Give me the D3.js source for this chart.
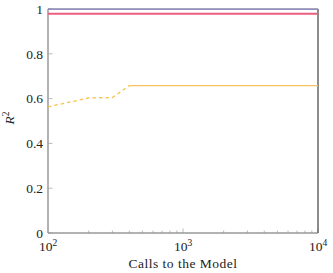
<!DOCTYPE html>
<html>
<head>
<meta charset="utf-8">
<script src="https://cdn.jsdelivr.net/npm/d3@7"></script>
<style>
  body { margin: 0; background: #fff; }
  text { font-family: "Liberation Serif", "DejaVu Serif", serif; fill: #222; }
</style>
</head>
<body>
<svg id="chart" width="333" height="273"></svg>
<script>
// Data
const xTicks = [100, 1000, 10000];
const yTicks = [0, 0.2, 0.4, 0.6, 0.8, 1];
const topSeries = [[100, 0.999], [10000, 0.999]];
const pinkSeries = [[100, 0.979], [10000, 0.979]];
const orangeDashed = [[100, 0.563], [200, 0.603], [300, 0.605], [400, 0.658]];
const orangeSolid = [[400, 0.658], [10000, 0.658]];

const margin = { top: 9, right: 15, bottom: 40, left: 48 };
const width = 333 - margin.left - margin.right;
const height = 273 - margin.top - margin.bottom;

const svg = d3.select("#chart")
    .append("g")
    .attr("transform", `translate(${margin.left},${margin.top})`);

const x = d3.scaleLog().domain([100, 10000]).range([0, width]);
const y = d3.scaleLinear().domain([0, 1]).range([height, 0]);

// minor ticks on x
const minor = [];
[100, 1000].forEach(b => { for (let k = 2; k <= 9; k++) minor.push(b * k); });
svg.append("g").selectAll("line").data(minor).enter().append("line")
    .attr("x1", d => x(d)).attr("x2", d => x(d))
    .attr("y1", height).attr("y2", height - 2.5)
    .attr("stroke", "#aaa").attr("stroke-width", 0.8);

// major ticks
svg.append("g").selectAll("line").data(xTicks).enter().append("line")
    .attr("x1", d => x(d)).attr("x2", d => x(d))
    .attr("y1", height).attr("y2", height - 4.5)
    .attr("stroke", "#aaa").attr("stroke-width", 0.8);
svg.append("g").selectAll("line").data(yTicks).enter().append("line")
    .attr("x1", 0).attr("x2", 4.5)
    .attr("y1", d => y(d)).attr("y2", d => y(d))
    .attr("stroke", "#aaa").attr("stroke-width", 0.8);

// frame
svg.append("line").attr("x1", 0).attr("x2", 0).attr("y1", 0).attr("y2", height)
    .attr("stroke", "#aaa").attr("stroke-width", 1.8);
svg.append("line").attr("x1", 0).attr("x2", width).attr("y1", height).attr("y2", height)
    .attr("stroke", "#999").attr("stroke-width", 1.5);
svg.append("line").attr("x1", width).attr("x2", width).attr("y1", 0).attr("y2", height)
    .attr("stroke", "#666").attr("stroke-width", 1.5);
svg.append("line").attr("x1", 0).attr("x2", width).attr("y1", 0).attr("y2", 0)
    .attr("stroke", "#777").attr("stroke-width", 1.2);

const line = d3.line().x(d => x(d[0])).y(d => y(d[1]));

svg.append("path").datum(orangeSolid).attr("d", line)
    .attr("fill", "none").attr("stroke", "#f6c25e").attr("stroke-width", 1.3);
svg.append("path").datum(orangeDashed).attr("d", line)
    .attr("fill", "none").attr("stroke", "#f8c24a").attr("stroke-width", 1.3)
    .attr("stroke-dasharray", "3.5,3");
svg.append("path").datum(pinkSeries).attr("d", line)
    .attr("fill", "none").attr("stroke", "#ea5f7e").attr("stroke-width", 2);
svg.append("path").datum(topSeries).attr("d", line)
    .attr("fill", "none").attr("stroke", "#8f8cc6").attr("stroke-width", 1.6)
    .attr("opacity", 0.9);

// y tick labels
svg.append("g").selectAll("text").data(yTicks).enter().append("text")
    .attr("x", -5).attr("y", d => y(d)).attr("dy", "0.35em")
    .attr("text-anchor", "end").attr("font-size", 13.5)
    .text(d => d === 0 || d === 1 ? d : d.toFixed(1));

// x tick labels with superscripts
const xl = svg.append("g").selectAll("text").data(xTicks).enter().append("text")
    .attr("x", d => x(d)).attr("y", height + 18)
    .attr("text-anchor", "middle").attr("font-size", 13.5);
xl.append("tspan").text("10");
xl.append("tspan").attr("dy", -5.5).attr("font-size", 9.5).text(d => Math.round(Math.log10(d)));

// axis titles
svg.append("text").attr("x", width / 2).attr("y", height + 35)
    .attr("text-anchor", "middle").attr("font-size", 13.5)
    .attr("letter-spacing", 0.5)
    .text("Calls to the Model");

const yt = svg.append("text")
    .attr("transform", `translate(${-34},${height / 2 - 3}) rotate(-90)`)
    .attr("text-anchor", "middle").attr("font-size", 13.5);
yt.append("tspan").attr("font-style", "italic").text("R");
yt.append("tspan").attr("dy", -5).attr("font-size", 9.5).text("2");
</script>
</body>
</html>
